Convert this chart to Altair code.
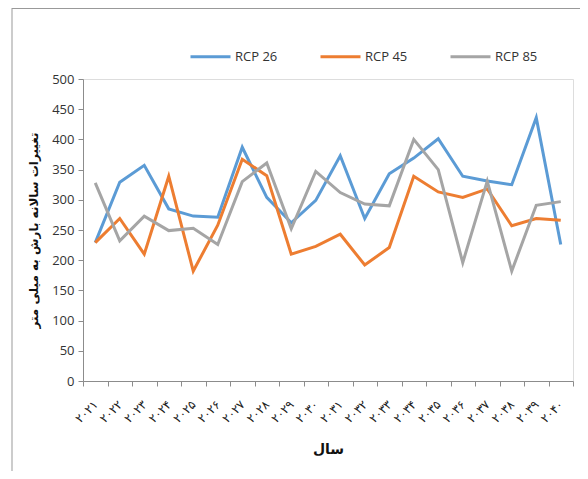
import altair as alt
import pandas as pd

years = ["۲۰۲۱", "۲۰۲۲", "۲۰۲۳", "۲۰۲۴", "۲۰۲۵", "۲۰۲۶", "۲۰۲۷", "۲۰۲۸", "۲۰۲۹", "۲۰۳۰",
         "۲۰۳۱", "۲۰۳۲", "۲۰۳۳", "۲۰۳۴", "۲۰۳۵", "۲۰۳۶", "۲۰۳۷", "۲۰۳۸", "۲۰۳۹", "۲۰۴۰"]
rcp26 = [229, 329, 357, 285, 273, 271, 387, 304, 262, 299, 373, 269, 343, 369, 401, 339, 331, 325, 436, 226]
rcp45 = [229, 269, 210, 339, 182, 258, 367, 340, 210, 223, 243, 192, 221, 339, 313, 304, 318, 257, 269, 266]
rcp85 = [328, 232, 273, 249, 253, 226, 330, 361, 252, 347, 312, 293, 290, 400, 350, 196, 331, 182, 291, 297]
series_names = ["RCP 26", "RCP 45", "RCP 85"]
colors = ["#5B9BD5", "#ED7D31", "#A5A5A5"]

rows = []
for name, vals in zip(series_names, [rcp26, rcp45, rcp85]):
    for y, v in zip(years, vals):
        rows.append({"year": y, "value": v, "series": name})
df = pd.DataFrame(rows)

lines = alt.Chart(df).mark_line(strokeWidth=3).encode(
    x=alt.X("year:O", sort=years,
            scale=alt.Scale(type="band", paddingInner=0, paddingOuter=0),
            bandPosition=0.5,
            axis=alt.Axis(title="سال", tickBand="extent", labelAngle=-45,
                          labelAlign="right", labelBaseline="middle",
                          labelPadding=16, tickSize=5,
                          domainColor="#8c8c8c", tickColor="#8c8c8c",
                          labelFont="DejaVu Sans", labelFontSize=12, labelColor="#222",
                          titleFont="DejaVu Sans", titleFontSize=14, titleFontWeight="bold",
                          titleColor="#111", titlePadding=18)),
    y=alt.Y("value:Q", scale=alt.Scale(domain=[0, 500], nice=False),
            axis=alt.Axis(title="تغییرات سالانه بارش به میلی متر",
                          values=list(range(0, 501, 50)), grid=False,
                          tickSize=5, labelPadding=4,
                          domainColor="#8c8c8c", tickColor="#8c8c8c",
                          labelFont="Open Sans", labelFontSize=13, labelColor="#333",
                          titleFont="DejaVu Sans", titleFontSize=12, titleFontWeight="bold",
                          titleColor="#111", titlePadding=11)),
    color=alt.Color("series:N",
                    scale=alt.Scale(domain=series_names, range=colors),
                    legend=alt.Legend(orient="none", legendX=106, legendY=-44,
                                      direction="horizontal", title=None,
                                      symbolType="stroke", symbolSize=1600,
                                      symbolStrokeWidth=3, labelOffset=3,
                                      labelFont="Open Sans", labelFontSize=13,
                                      labelColor="#333", columnPadding=36,
                                      padding=0)),
)

frame_df = pd.DataFrame({"k": [0]})
left_border = alt.Chart(frame_df).mark_rule(color="#999", strokeWidth=1).encode(
    x=alt.value(-71), y=alt.value(-71), y2=alt.value(420))
top_border = alt.Chart(frame_df).mark_rule(color="#999", strokeWidth=1).encode(
    x=alt.value(-71), x2=alt.value(520), y=alt.value(-70.5))

chart = alt.layer(left_border, top_border, lines).properties(
    width=490, height=302,
    autosize=alt.AutoSizeParams(type="none"),
    padding={"left": 75, "top": 71, "right": 7, "bottom": 90},
).configure_view(stroke=None).configure(background="white")

chart.save("out.html", embed_options={"renderer": "svg", "actions": False})
